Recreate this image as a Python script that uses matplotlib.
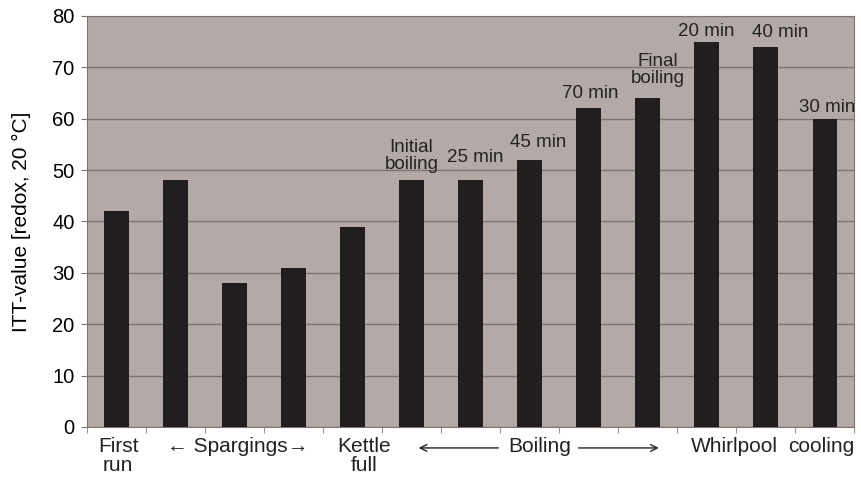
import numpy as np
import matplotlib.pyplot as plt
from matplotlib.transforms import blended_transform_factory

plt.rcParams['font.family'] = ['Liberation Sans', 'DejaVu Sans']

values = [42, 48, 28, 31, 39, 48, 48, 52, 62, 64, 75, 74, 60]
bar_notes = ['', '', '', '', '', 'Initial\nboiling', '25 min', '45 min',
             '70 min', 'Final\nboiling', '20 min', '40 min', '30 min']
group_labels = ['First\nrun', '\u2190 Spargings\u2192', 'Kettle\nfull', 'Boiling',
                'Whirlpool', 'cooling']

# label placement (not data)
note_dy = [0, 0, 0, 0, 0, 2.3, 3.5, 2.5, 2.1, 3.0, 1.2, 2.0, 1.3]
note_dx = [0, 0, 0, 0, 0, 0.0, 0.08, 0.15, 0.03, 0.17, 0.0, 0.24, 0.05]
group_pos = [0.03, 2.06, 4.2, 7.18, 10.47, 11.95]

x = np.arange(len(values))

fig = plt.figure(figsize=(8.61, 4.79), dpi=100)
ax = fig.add_axes([0.101, 0.1086, 0.891, 0.858])
ax.set_facecolor('#b3aaa7')

ax.bar(x, values, width=0.41, color='#221e1f', zorder=3)
ax.set_xlim(-0.5, len(values) - 0.5)
ax.set_ylim(0, 80)
ax.set_yticks(range(0, 81, 10))
ax.yaxis.grid(True, color='#7d7574', linewidth=1, zorder=1)
ax.tick_params(axis='y', labelsize=14.5, length=4, color='#7d7574', pad=5)
ax.set_xticks(np.arange(-0.5, len(values), 1))
ax.set_xticklabels([])
ax.tick_params(axis='x', length=4, color='#9a9291')
for s in ax.spines.values():
    s.set_color('#7d7574')
ax.set_ylabel('ITT-value [redox, 20 \u00b0C]', fontsize=15, labelpad=15)

for xi, v, note, dy, dx in zip(x, values, bar_notes, note_dy, note_dx):
    if note:
        ax.text(xi + dx, v + dy, note, ha='center', va='baseline', fontsize=13.5,
                color='#222222', linespacing=1.0)

tr = blended_transform_factory(ax.transData, ax.transAxes)
for pos, lab in zip(group_pos, group_labels):
    ax.text(pos, -0.025, lab, transform=tr, ha='center', va='top',
            fontsize=15, color='#222222', linespacing=1.0)

# arrows around "Boiling"
arrow = dict(arrowstyle='->', color='#222222', lw=1.0, shrinkA=0, shrinkB=0,
             mutation_scale=12)
ax.annotate('', xy=(5.12, -0.051), xytext=(6.47, -0.051), xycoords=tr,
            textcoords=tr, arrowprops=arrow, annotation_clip=False)
ax.annotate('', xy=(9.19, -0.051), xytext=(7.83, -0.051), xycoords=tr,
            textcoords=tr, arrowprops=arrow, annotation_clip=False)

fig.savefig('out.png', dpi=100, facecolor='white')
